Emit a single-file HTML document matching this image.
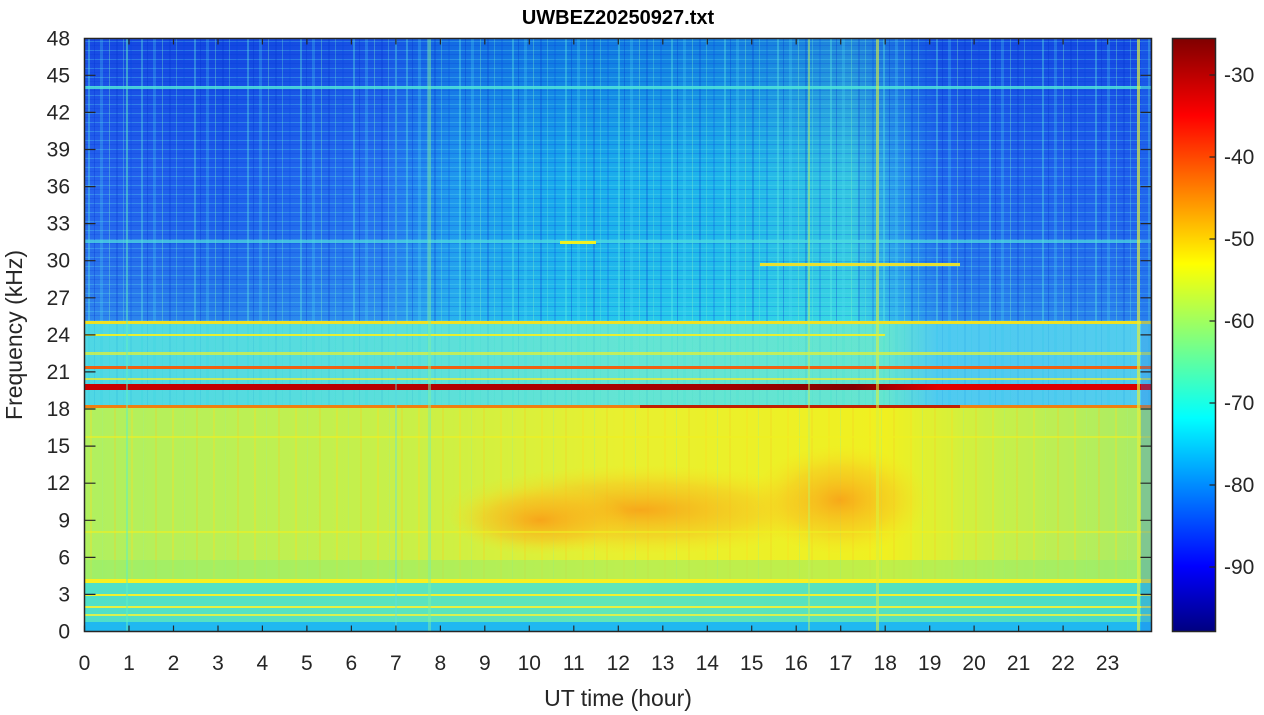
<!DOCTYPE html>
<html><head><meta charset="utf-8">
<style>
html,body{margin:0;padding:0;background:#fff;}
svg{display:block;font-family:"Liberation Sans",Arial,sans-serif;}
</style></head>
<body>
<svg width="1264" height="715" viewBox="0 0 1264 715">
<defs>
<linearGradient id="topH" x1="0" x2="1" y1="0" y2="0">
<stop offset="0" stop-color="#2a6cf2"/>
<stop offset="0.12" stop-color="#2064ee"/>
<stop offset="0.28" stop-color="#2a7cf4"/>
<stop offset="0.34" stop-color="#22a4f2"/>
<stop offset="0.45" stop-color="#1cbcf0"/>
<stop offset="0.6" stop-color="#22c8ee"/>
<stop offset="0.72" stop-color="#3ad8e4"/>
<stop offset="0.77" stop-color="#2a9af2"/>
<stop offset="0.8" stop-color="#2470f0"/>
<stop offset="1" stop-color="#2468f0"/>
</linearGradient>
<linearGradient id="topV" x1="0" x2="0" y1="0" y2="1">
<stop offset="0" stop-color="#0020d0" stop-opacity="0.45"/>
<stop offset="0.5" stop-color="#0020d0" stop-opacity="0.1"/>
<stop offset="1" stop-color="#40e0e0" stop-opacity="0.25"/>
</linearGradient>
<linearGradient id="midH" x1="0" x2="1" y1="0" y2="0">
<stop offset="0" stop-color="#30d0e0"/>
<stop offset="0.5" stop-color="#48e0cc"/>
<stop offset="0.75" stop-color="#4ae0c8"/>
<stop offset="0.8" stop-color="#30c0ee"/>
<stop offset="1" stop-color="#34c4ea"/>
</linearGradient>
<linearGradient id="lowH" x1="0" x2="1" y1="0" y2="0">
<stop offset="0" stop-color="#b0f060"/>
<stop offset="0.3" stop-color="#c8f048"/>
<stop offset="0.5" stop-color="#e8f030"/>
<stop offset="0.75" stop-color="#f0f020"/>
<stop offset="0.85" stop-color="#c8f048"/>
<stop offset="1" stop-color="#a8ec68"/>
</linearGradient>
<radialGradient id="blob" cx="0.5" cy="0.5" r="0.5">
<stop offset="0" stop-color="#f8a018" stop-opacity="0.9"/>
<stop offset="0.6" stop-color="#f8c020" stop-opacity="0.5"/>
<stop offset="1" stop-color="#f8e020" stop-opacity="0"/>
</radialGradient>
<linearGradient id="botH" x1="0" x2="1" y1="0" y2="0">
<stop offset="0" stop-color="#50e0c8"/>
<stop offset="0.5" stop-color="#60e6b8"/>
<stop offset="1" stop-color="#48dcc8"/>
</linearGradient>
<linearGradient id="redl" x1="0" x2="1" y1="0" y2="0">
<stop offset="0" stop-color="#c80000"/>
<stop offset="0.6" stop-color="#a00000"/>
<stop offset="0.72" stop-color="#800000"/>
<stop offset="0.8" stop-color="#e00000"/>
<stop offset="1" stop-color="#d80000"/>
</linearGradient>
<linearGradient id="jet" x1="0" x2="0" y1="1" y2="0">
<stop offset="0" stop-color="#000080"/>
<stop offset="0.11" stop-color="#0000ff"/>
<stop offset="0.36" stop-color="#00ffff"/>
<stop offset="0.62" stop-color="#ffff00"/>
<stop offset="0.87" stop-color="#ff0000"/>
<stop offset="1" stop-color="#800000"/>
</linearGradient>
<pattern id="str" x="85" y="0" width="53" height="10" patternUnits="userSpaceOnUse">
<rect x="3" y="0" width="2" height="10" fill="#60f0e0" opacity="0.35"/>
<rect x="9" y="0" width="1" height="10" fill="#0030d0" opacity="0.3"/>
<rect x="15" y="0" width="3" height="10" fill="#50e0f0" opacity="0.25"/>
<rect x="24" y="0" width="1" height="10" fill="#80f0c0" opacity="0.35"/>
<rect x="31" y="0" width="2" height="10" fill="#0030d0" opacity="0.25"/>
<rect x="38" y="0" width="1" height="10" fill="#70f0d0" opacity="0.3"/>
<rect x="45" y="0" width="2" height="10" fill="#0040e0" opacity="0.2"/>
</pattern>
<pattern id="ystr" x="85" y="0" width="41" height="10" patternUnits="userSpaceOnUse">
<rect x="5" y="0" width="2" height="10" fill="#f8e020" opacity="0.35"/>
<rect x="17" y="0" width="1" height="10" fill="#a0f080" opacity="0.35"/>
<rect x="29" y="0" width="2" height="10" fill="#f8d020" opacity="0.3"/>
</pattern>
<pattern id="hstr" x="0" y="39" width="10" height="9" patternUnits="userSpaceOnUse">
<rect x="0" y="2" width="10" height="1" fill="#60e0f0" opacity="0.3"/>
<rect x="0" y="6" width="10" height="1" fill="#0030d0" opacity="0.2"/>
</pattern>
<clipPath id="pc"><rect x="85" y="39" width="1067" height="593"/></clipPath>
</defs>

<text x="618" y="24" font-size="20" font-weight="bold" text-anchor="middle" fill="#000">UWBEZ20250927.txt</text>

<g clip-path="url(#pc)">
<rect x="85" y="39" width="1067" height="284" fill="url(#topH)"/>
<rect x="85" y="39" width="1067" height="284" fill="url(#topV)"/>
<rect x="85" y="39" width="1067" height="284" fill="url(#hstr)"/>
<rect x="85" y="39" width="1067" height="368" fill="url(#str)"/>
<rect x="85" y="323" width="1067" height="84" fill="url(#midH)" opacity="0.85"/>
<rect x="85" y="407" width="1067" height="175" fill="url(#lowH)"/>
<rect x="85" y="407" width="1067" height="175" fill="url(#ystr)"/>
<ellipse cx="640" cy="510" rx="200" ry="45" fill="url(#blob)"/>
<ellipse cx="840" cy="500" rx="90" ry="55" fill="url(#blob)"/>
<ellipse cx="540" cy="520" rx="90" ry="35" fill="url(#blob)"/>
<rect x="85" y="560" width="1067" height="22" fill="#90ee70" opacity="0.5"/>
<rect x="85" y="582" width="1067" height="50" fill="url(#botH)"/>
<rect x="85" y="622" width="1067" height="10" fill="#20b8f0"/>
<rect x="85" y="86" width="1067" height="3" fill="#50e8d8" opacity="0.8"/>
<rect x="85" y="240" width="1067" height="3" fill="#50e0e0" opacity="0.7"/>
<rect x="85" y="321" width="1067" height="3" fill="#f0e020"/>
<rect x="85" y="334" width="800" height="2" fill="#e8f030"/>
<rect x="85" y="352" width="1067" height="3" fill="#d8f040" opacity="0.8"/>
<rect x="85" y="366" width="1067" height="3" fill="#f06010"/>
<rect x="85" y="378" width="1067" height="2" fill="#f8f020" opacity="0.7"/>
<rect x="85" y="384" width="1067" height="6" fill="url(#redl)"/>
<rect x="85" y="405" width="1067" height="3" fill="#f08010"/>
<rect x="640" y="405" width="320" height="3" fill="#c02000"/>
<rect x="85" y="436" width="1067" height="2" fill="#f0f020" opacity="0.6"/>
<rect x="85" y="531" width="1067" height="2" fill="#f0f020" opacity="0.6"/>
<rect x="85" y="579" width="1067" height="4" fill="#f8f020"/>
<rect x="85" y="594" width="1067" height="2" fill="#f0f030"/>
<rect x="85" y="606" width="1067" height="2" fill="#e8f040"/>
<rect x="85" y="614" width="1067" height="2" fill="#d8f050"/>
<rect x="760" y="263" width="200" height="3" fill="#e8e030"/>
<rect x="560" y="241" width="36" height="3" fill="#f0f020"/>
<rect x="126" y="39" width="2" height="593" fill="#60f0c0" opacity="0.5"/>
<rect x="428" y="39" width="3" height="593" fill="#80f0a0" opacity="0.5"/>
<rect x="395" y="39" width="2" height="593" fill="#60e0e0" opacity="0.4"/>
<rect x="808" y="39" width="2" height="593" fill="#c0f060" opacity="0.5"/>
<rect x="876" y="39" width="3" height="593" fill="#d8f040" opacity="0.6"/>
<rect x="1137" y="39" width="3" height="593" fill="#e0f040" opacity="0.7"/>
<rect x="1141" y="39" width="11" height="593" fill="#2070f0" opacity="0.3"/>
</g>

<rect x="84.5" y="38.5" width="1067" height="593" fill="none" stroke="#262626" stroke-width="1.5"/>
<g stroke="#262626" stroke-width="1.2">
<path d="M84.5 631.5v-6M129 631.5v-6M173.5 631.5v-6M218 631.5v-6M262.4 631.5v-6M306.9 631.5v-6M351.4 631.5v-6M395.9 631.5v-6M440.4 631.5v-6M484.8 631.5v-6M529.3 631.5v-6M573.8 631.5v-6M618.3 631.5v-6M662.8 631.5v-6M707.3 631.5v-6M751.7 631.5v-6M796.2 631.5v-6M840.7 631.5v-6M885.2 631.5v-6M929.7 631.5v-6M974.1 631.5v-6M1018.6 631.5v-6M1063.1 631.5v-6M1107.6 631.5v-6"/>
<path d="M129 38.5v6M173.5 38.5v6M218 38.5v6M262.4 38.5v6M306.9 38.5v6M351.4 38.5v6M395.9 38.5v6M440.4 38.5v6M484.8 38.5v6M529.3 38.5v6M573.8 38.5v6M618.3 38.5v6M662.8 38.5v6M707.3 38.5v6M751.7 38.5v6M796.2 38.5v6M840.7 38.5v6M885.2 38.5v6M929.7 38.5v6M974.1 38.5v6M1018.6 38.5v6M1063.1 38.5v6M1107.6 38.5v6"/>
<path d="M84.5 594.4h11M84.5 557.4h11M84.5 520.3h11M84.5 483.2h11M84.5 446.1h11M84.5 409h11M84.5 371.9h11M84.5 334.9h11M84.5 297.8h11M84.5 260.7h11M84.5 223.6h11M84.5 186.6h11M84.5 149.5h11M84.5 112.4h11M84.5 75.3h11"/>
<path d="M1151.5 594.4h-11M1151.5 557.4h-11M1151.5 520.3h-11M1151.5 483.2h-11M1151.5 446.1h-11M1151.5 409h-11M1151.5 371.9h-11M1151.5 334.9h-11M1151.5 297.8h-11M1151.5 260.7h-11M1151.5 223.6h-11M1151.5 186.6h-11M1151.5 149.5h-11M1151.5 112.4h-11M1151.5 75.3h-11"/>
</g>

<g font-size="21" fill="#262626" text-anchor="middle">
<text x="84.5" y="670">0</text><text x="129" y="670">1</text><text x="173.5" y="670">2</text><text x="218" y="670">3</text><text x="262.4" y="670">4</text><text x="306.9" y="670">5</text><text x="351.4" y="670">6</text><text x="395.9" y="670">7</text><text x="440.4" y="670">8</text><text x="484.8" y="670">9</text><text x="529.3" y="670">10</text><text x="573.8" y="670">11</text><text x="618.3" y="670">12</text><text x="662.8" y="670">13</text><text x="707.3" y="670">14</text><text x="751.7" y="670">15</text><text x="796.2" y="670">16</text><text x="840.7" y="670">17</text><text x="885.2" y="670">18</text><text x="929.7" y="670">19</text><text x="974.1" y="670">20</text><text x="1018.6" y="670">21</text><text x="1063.1" y="670">22</text><text x="1107.6" y="670">23</text>
</g>
<g font-size="21" fill="#262626" text-anchor="end">
<text x="70" y="638.5">0</text><text x="70" y="601.4">3</text><text x="70" y="564.4">6</text><text x="70" y="527.3">9</text><text x="70" y="490.2">12</text><text x="70" y="453.1">15</text><text x="70" y="416">18</text><text x="70" y="378.9">21</text><text x="70" y="341.9">24</text><text x="70" y="304.8">27</text><text x="70" y="267.7">30</text><text x="70" y="230.6">33</text><text x="70" y="193.6">36</text><text x="70" y="156.5">39</text><text x="70" y="119.4">42</text><text x="70" y="82.3">45</text><text x="70" y="45.5">48</text>
</g>
<text x="618" y="706" font-size="23" fill="#262626" text-anchor="middle">UT time (hour)</text>
<text transform="translate(22,335) rotate(-90)" font-size="23" fill="#262626" text-anchor="middle">Frequency (kHz)</text>

<rect x="1172.5" y="38.5" width="43" height="593" fill="url(#jet)" stroke="#262626" stroke-width="1.5"/>
<g stroke="#262626" stroke-width="1.2">
<path d="M1215.5 75h-6M1215.5 157h-6M1215.5 239h-6M1215.5 321h-6M1215.5 403h-6M1215.5 485h-6M1215.5 567h-6"/>
</g>
<g font-size="21" fill="#262626">
<text x="1224" y="82">-30</text><text x="1224" y="164">-40</text><text x="1224" y="246">-50</text><text x="1224" y="328">-60</text><text x="1224" y="410">-70</text><text x="1224" y="492">-80</text><text x="1224" y="574">-90</text>
</g>
</svg>
</body></html>
